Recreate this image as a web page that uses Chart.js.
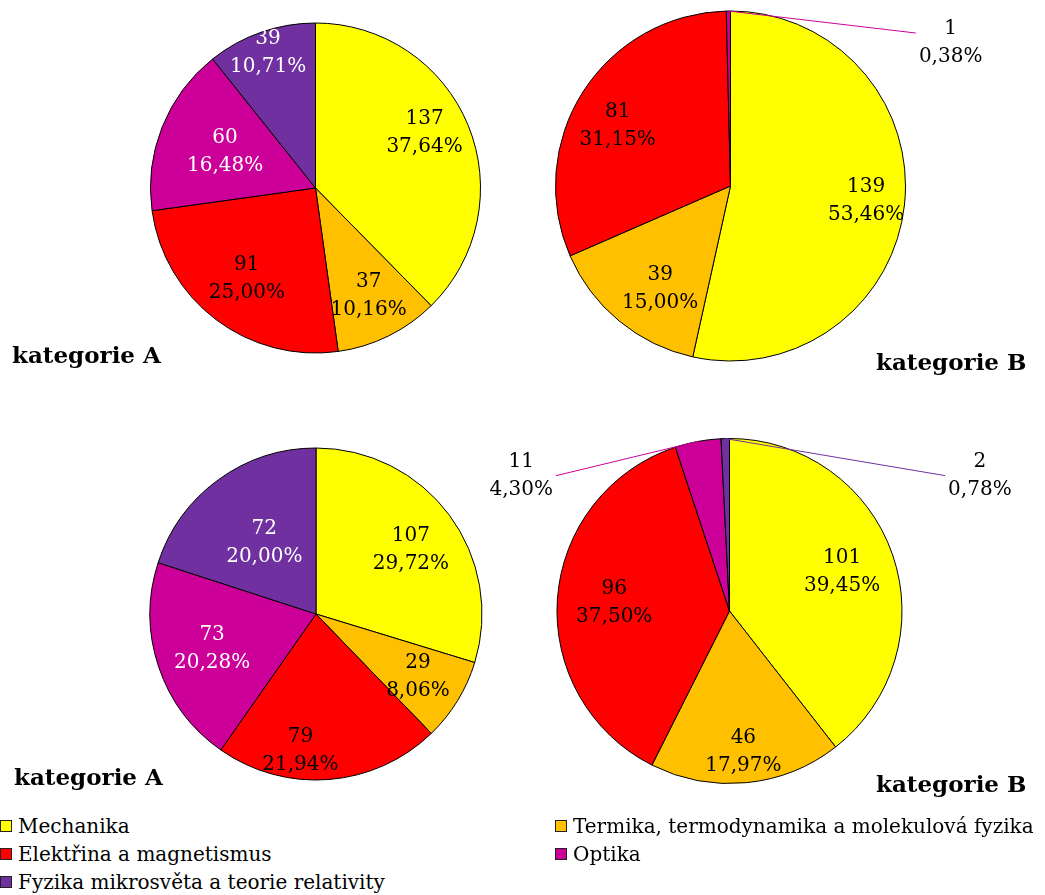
<!DOCTYPE html>
<html>
<head>
<meta charset="utf-8">
<script src="https://cdn.jsdelivr.net/npm/chart.js@4/dist/chart.umd.min.js"></script>
<style>
  body { margin: 0; background: #fff; font-family: "DejaVu Serif", serif; color: #000; }
  #wrap { position: relative; width: 1045px; height: 895px; overflow: hidden; }
  canvas { position: absolute; }
  .title { position: absolute; font-weight: bold; font-size: 23px; line-height: 28px; white-space: nowrap; }
  .legend { position: absolute; font-size: 20px; line-height: 28px; white-space: nowrap; }
  .box { display: inline-block; width: 10px; height: 10px; border: 1px solid #222; margin-right: 6px; vertical-align: 1px; }
</style>
</head>
<body>
<div id="wrap">
  <canvas id="pieA1"></canvas>
  <canvas id="pieB1"></canvas>
  <canvas id="pieA2"></canvas>
  <canvas id="pieB2"></canvas>
</div>
<script>
"use strict";

var categories = ["Mechanika", "Termika, termodynamika a molekulová fyzika",
                  "Elektřina a magnetismus", "Optika",
                  "Fyzika mikrosvěta a teorie relativity"];
var colors = ["#ffff00", "#ffc000", "#ff0000", "#cc0099", "#7030a0"];
var textColors = ["#000", "#000", "#000", "#fff", "#fff"];

var topA = [137, 37, 91, 60, 39];
var topB = [139, 39, 81, 1, 0];
var bottomA = [107, 29, 79, 73, 72];
var bottomB = [101, 46, 96, 11, 2];

var titleA = "kategorie A";
var titleB = "kategorie B";

// labels: number = fraction of radius, [frac, angle shift], {a, r} = outside with leader line
var sliceLabels = {
  id: "sliceLabels",
  afterDatasetsDraw: function(chart, args, opts) {
    var ctx = chart.ctx;
    var ds = chart.data.datasets[0];
    var total = ds.data.reduce((a, b) => a + b, 0);
    var meta = chart.getDatasetMeta(0);
    ctx.save();
    ctx.font = "20px 'DejaVu Serif'";
    ctx.textAlign = "center";
    ctx.textBaseline = "middle";
    meta.data.forEach(function(arc, i) {
      var p = opts.pos[i];
      if (!ds.data[i] || p == null) return;
      var lines = [String(ds.data[i]),
                   (ds.data[i] / total * 100).toFixed(2).replace(".", ",") + "%"];
      var mid = (arc.startAngle + arc.endAngle) / 2;
      var R = arc.outerRadius;
      var lx, ly;
      if (typeof p === "number" || Array.isArray(p)) {
        var f = Array.isArray(p) ? p[0] : p;
        var a = mid + (Array.isArray(p) ? p[1] * Math.PI / 180 : 0);
        lx = arc.x + Math.cos(a) * R * f;
        ly = arc.y + Math.sin(a) * R * f;
        ctx.fillStyle = textColors[i];
      } else {
        var a2 = (p.a - 90) * Math.PI / 180;
        lx = arc.x + Math.cos(a2) * R * p.r;
        ly = arc.y + Math.sin(a2) * R * p.r;
        var w = Math.max.apply(null, lines.map(s => ctx.measureText(s).width));
        var ex = lx > arc.x ? lx - w / 2 - 3 : lx + w / 2 + 3;
        ctx.strokeStyle = ds.backgroundColor[i];
        ctx.lineWidth = 1;
        ctx.beginPath();
        ctx.moveTo(arc.x + Math.cos(mid) * R, arc.y + Math.sin(mid) * R);
        ctx.lineTo(ex, ly + (p.dy || 0));
        ctx.stroke();
        ctx.fillStyle = "#000";
      }
      ctx.fillText(lines[0], lx, ly - 14);
      ctx.fillText(lines[1], lx, ly + 14);
    });
    ctx.restore();
  }
};

function makePie(id, values, pos, box, cx, cy, r) {
  var cv = document.getElementById(id);
  cv.width = box.w;
  cv.height = box.h;
  cv.style.left = box.x + "px";
  cv.style.top = box.y + "px";
  return new Chart(cv, {
    type: "pie",
    data: {
      labels: categories,
      datasets: [{
        data: values,
        backgroundColor: colors,
        borderColor: "#000",
        borderWidth: 1
      }]
    },
    options: {
      responsive: false,
      animation: false,
      layout: {
        padding: {
          left: cx - r - box.x - 0.5,
          top: cy - r - box.y - 0.5,
          right: box.x + box.w - cx - r - 0.5,
          bottom: box.y + box.h - cy - r - 0.5
        }
      },
      plugins: {
        legend: { display: false },
        tooltip: { enabled: false },
        sliceLabels: { pos: pos }
      }
    },
    plugins: [sliceLabels]
  });
}

makePie("pieA1", topA, [[0.74, -4.5], 0.73, 0.69, 0.59, 0.87],
        { x: 0, y: 0, w: 522, h: 400 }, 315.5, 188, 165);
makePie("pieB1", topB, [0.78, [0.71, -5], [0.73, -4.5], { a: 57, r: 1.5, dy: -10 }, null],
        { x: 430, y: 0, w: 615, h: 400 }, 730.5, 186, 175);
makePie("pieA2", bottomA, [[0.69, 2.5], 0.72, [0.83, 11], 0.66, 0.53],
        { x: 0, y: 400, w: 522, h: 410 }, 316, 614, 166);
makePie("pieB2", bottomB, [0.69, 0.82, 0.67, { a: 303, r: 1.44 }, { a: 61.6, r: 1.65 }],
        { x: 430, y: 400, w: 615, h: 410 }, 729.5, 611, 172.5);

var wrap = document.getElementById("wrap");

function addTitle(text, x, y) {
  var d = document.createElement("div");
  d.className = "title";
  d.textContent = text;
  d.style.left = x + "px";
  d.style.top = y + "px";
  wrap.appendChild(d);
}
addTitle(titleA, 12, 341);
addTitle(titleB, 876, 348);
addTitle(titleA, 14, 763);
addTitle(titleB, 876, 770);

// legend in two columns, row by row
var legendCols = [document.createElement("div"), document.createElement("div")];
legendCols[0].className = legendCols[1].className = "legend";
legendCols[0].style.left = "0px";
legendCols[1].style.left = "555px";
legendCols[0].style.top = legendCols[1].style.top = "812px";
categories.forEach(function(c, i) {
  var row = document.createElement("div");
  var sw = document.createElement("span");
  sw.className = "box";
  sw.style.background = colors[i];
  row.appendChild(sw);
  row.appendChild(document.createTextNode(c));
  legendCols[i % 2].appendChild(row);
});
wrap.appendChild(legendCols[0]);
wrap.appendChild(legendCols[1]);
</script>
</body>
</html>
